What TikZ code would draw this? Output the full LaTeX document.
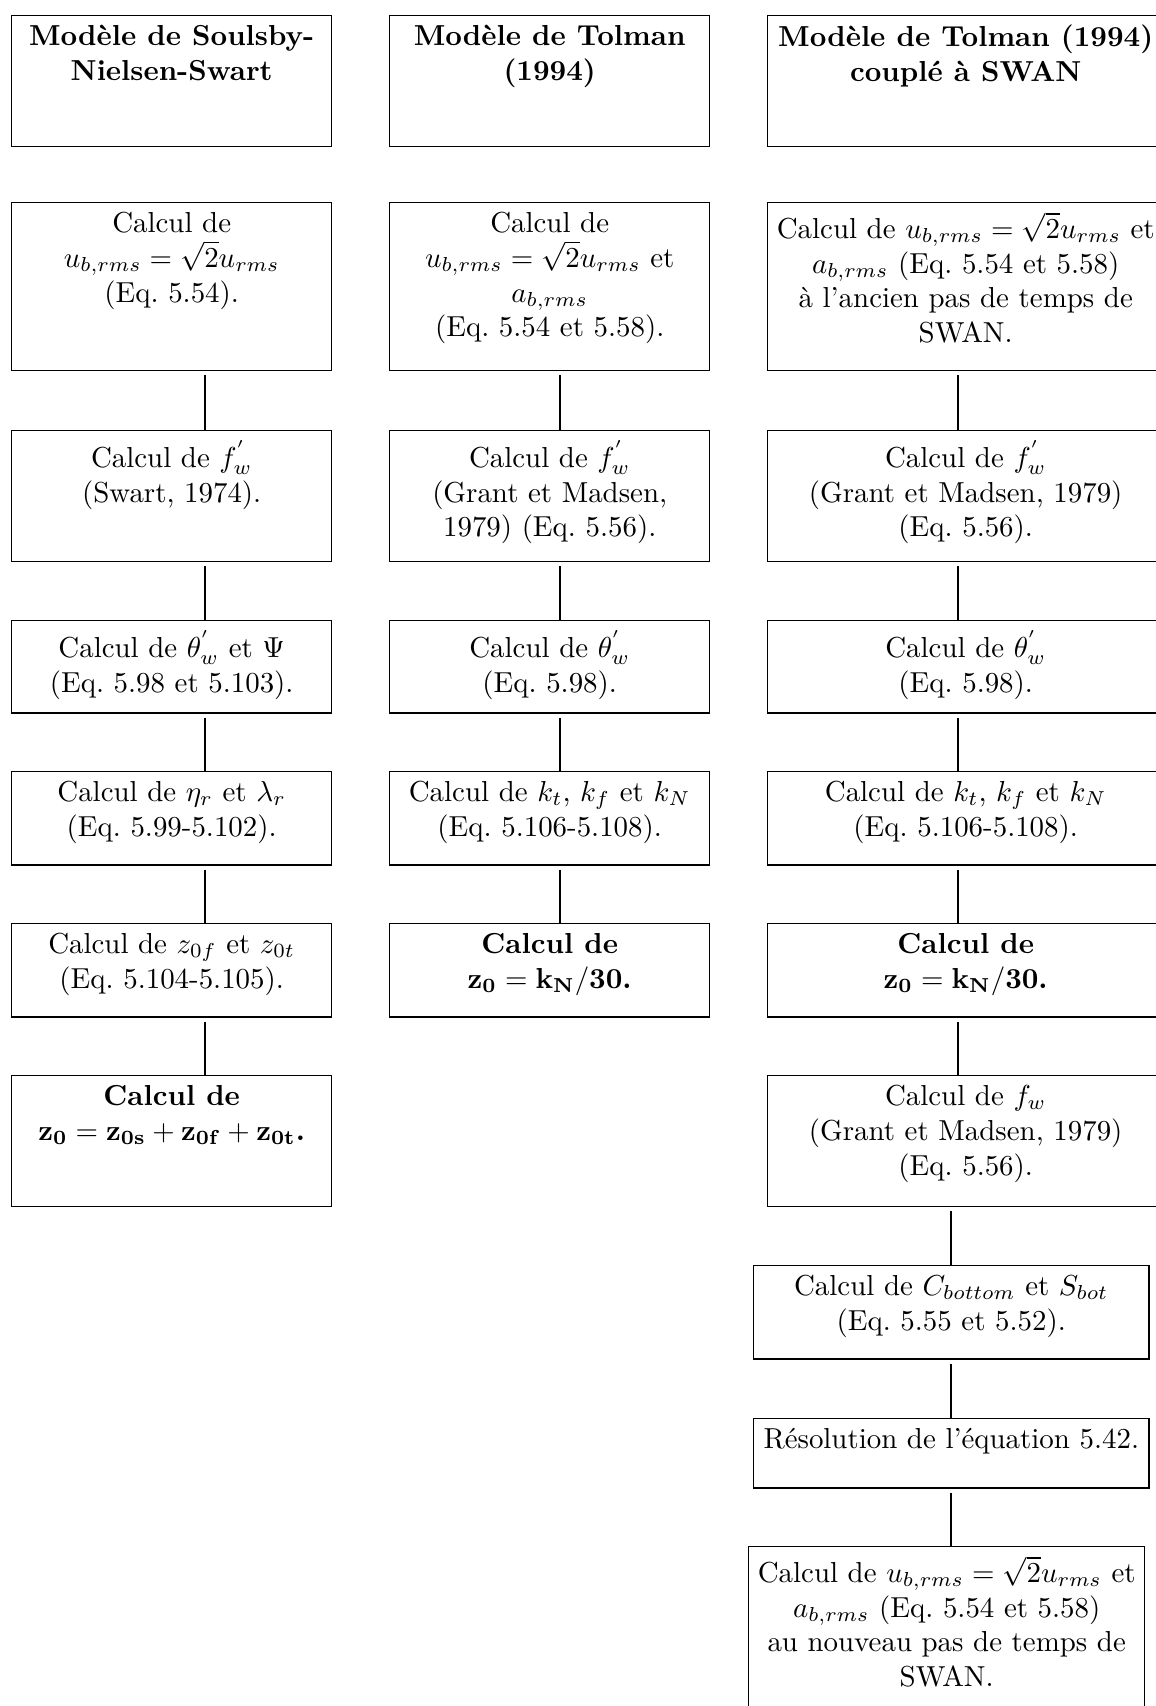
\documentclass[tikz,border=0pt]{standalone}
\usepackage{amsmath}
\frenchspacing

\begin{document}
\begin{tikzpicture}[x=0.346pt, y=-0.346pt,
  cell/.style 2 args={draw, line width=0.5pt, anchor=north west, inner xsep=0pt, inner ysep=3.3pt,
    execute at begin node={\begin{minipage}[c][#2][t]{#1}\centering},
    execute at end node={\end{minipage}}},
  link/.style={shorten <=1.4pt}]
  \useasboundingbox (0,0) rectangle (1156,1706);

  % abscisses des traits de liaison
  \coordinate (ka) at (205,0);
  \coordinate (kb) at (560,0);
  \coordinate (kc) at (958,0);
  \coordinate (kd) at (951,0);

  % titres
  \node[cell={110.7pt}{38.7pt}] (r1a) at (11,15) {\textbf{Modèle de Soulsby-\\Nielsen-Swart}};
  \node[cell={110.7pt}{38.7pt}] (r1b) at (389,15) {\textbf{Modèle de Tolman\\(1994)}};
  \node[cell={137pt}{38.7pt}] (r1c) at (767,15) {\textbf{Modèle de Tolman (1994)\\couplé à SWAN}};

  % colonne 1 : Soulsby-Nielsen-Swart
  \node[cell={110.7pt}{51.5pt}] (r2a) at (11,202) {Calcul de\\$u_{b,rms}=\sqrt{2}u_{rms}$\\(Eq. 5.54).};
  \node[cell={110.7pt}{38.6pt}] (r3a) at (11,430) {Calcul de $f^{'}_w$\\(Swart, 1974).};
  \node[cell={110.7pt}{25.3pt}] (r4a) at (11,620) {Calcul de $\theta^{'}_w$ et $\Psi$\\(Eq. 5.98 et 5.103).};
  \node[cell={110.7pt}{25.6pt}] (r5a) at (11,771) {Calcul de $\eta_r$ et $\lambda_r$\\(Eq. 5.99-5.102).};
  \node[cell={110.7pt}{25.6pt}] (r6a) at (11,923) {Calcul de $z_{0f}$ et $z_{0t}$\\(Eq. 5.104-5.105).};
  \node[cell={110.7pt}{38.7pt}] (r7a) at (11,1075) {\textbf{Calcul de\\$\mathbf{z_0=z_{0s}+z_{0f}+z_{0t}}$.}};

  % colonne 2 : Tolman
  \node[cell={110.7pt}{51.5pt}] (r2b) at (389,202) {Calcul de\\$u_{b,rms}=\sqrt{2}u_{rms}$ et\\$a_{b,rms}$\\(Eq. 5.54 et 5.58).};
  \node[cell={110.7pt}{38.6pt}] (r3b) at (389,430) {Calcul de $f^{'}_w$\\(Grant et Madsen,\\1979) (Eq. 5.56).};
  \node[cell={110.7pt}{25.3pt}] (r4b) at (389,620) {Calcul de $\theta^{'}_w$\\(Eq. 5.98).};
  \node[cell={110.7pt}{25.6pt}] (r5b) at (389,771) {Calcul de $k_t$, $k_f$ et $k_N$\\(Eq. 5.106-5.108).};
  \node[cell={110.7pt}{25.6pt}] (r6b) at (389,923) {\textbf{Calcul de\\$\mathbf{z_0=k_N/30}$.}};

  % colonne 3 : Tolman + SWAN
  \node[cell={137pt}{51.5pt}] (r2c) at (767,202) {Calcul de $u_{b,rms}=\sqrt{2}u_{rms}$ et\\$a_{b,rms}$ (Eq. 5.54 et 5.58)\\à l'ancien pas de temps de\\SWAN.};
  \node[cell={137pt}{38.6pt}] (r3c) at (767,430) {Calcul de $f^{'}_w$\\(Grant et Madsen, 1979)\\(Eq. 5.56).};
  \node[cell={137pt}{25.3pt}] (r4c) at (767,620) {Calcul de $\theta^{'}_w$\\(Eq. 5.98).};
  \node[cell={137pt}{25.6pt}] (r5c) at (767,771) {Calcul de $k_t$, $k_f$ et $k_N$\\(Eq. 5.106-5.108).};
  \node[cell={137pt}{25.6pt}] (r6c) at (767,923) {\textbf{Calcul de\\$\mathbf{z_0=k_N/30}$.}};
  \node[cell={137pt}{38.7pt}] (r7c) at (767,1075) {Calcul de $f_w$\\(Grant et Madsen, 1979)\\(Eq. 5.56).};
  \node[cell={136.7pt}{25.6pt}] (r8c) at (753,1265) {Calcul de $C_{bottom}$ et $S_{bot}$\\(Eq. 5.55 et 5.52).};
  \node[cell={136.7pt}{17.3pt}] (r9c) at (753,1418) {Résolution de l'équation 5.42.};
  \node[cell={137pt}{51.5pt}] (r10c) at (748,1546) {Calcul de $u_{b,rms}=\sqrt{2}u_{rms}$ et\\$a_{b,rms}$ (Eq. 5.54 et 5.58)\\au nouveau pas de temps de\\SWAN.};

  % liaisons
  \foreach \u/\v in {r2a/r3a, r3a/r4a, r4a/r5a, r5a/r6a, r6a/r7a}
    \draw[link] (\u.south -| ka) -- (\v.north -| ka);
  \foreach \u/\v in {r2b/r3b, r3b/r4b, r4b/r5b, r5b/r6b}
    \draw[link] (\u.south -| kb) -- (\v.north -| kb);
  \foreach \u/\v in {r2c/r3c, r3c/r4c, r4c/r5c, r5c/r6c, r6c/r7c}
    \draw[link] (\u.south -| kc) -- (\v.north -| kc);
  \foreach \u/\v in {r7c/r8c, r8c/r9c, r9c/r10c}
    \draw[link] (\u.south -| kd) -- (\v.north -| kd);
\end{tikzpicture}
\end{document}
